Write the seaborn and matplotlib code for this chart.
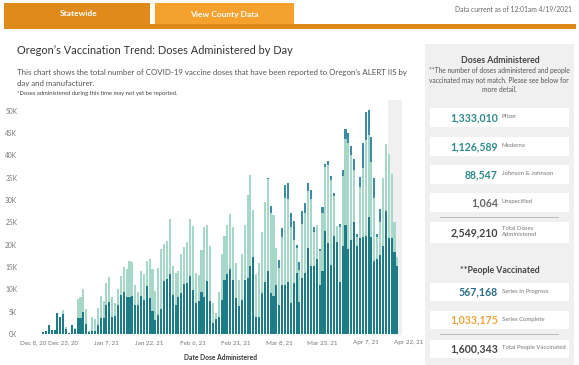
import pandas as pd
import matplotlib.pyplot as plt
import matplotlib.patches as mpatches
import seaborn as sns

# daily doses (thousands), Dec 16 2020 .. Apr 18 2021
first_day = "2020-12-16"
total_k = [0.5, 0.7, 2.1, 1.0, 0.9, 4.6, 3.8, 5.4, 1.6, 0.2,
           2.0, 1.4, 7.8, 8.2, 10.0, 5.7, 0.6, 3.9, 3.3, 5.9,
           8.6, 7.3, 11.4, 12.7, 8.2, 7.0, 10.1, 13.0, 15.1, 14.6,
           16.4, 16.2, 10.9, 9.4, 14.0, 13.4, 16.4, 16.8, 14.5, 9.6,
           14.8, 19.0, 20.1, 20.8, 25.8, 15.3, 13.6, 14.0, 18.0, 19.4,
           20.7, 25.8, 24.1, 13.7, 13.3, 18.7, 24.0, 24.3, 19.8, 7.0,
           4.6, 9.5, 18.0, 22.0, 24.5, 26.9, 24.0, 16.0, 12.1, 18.0,
           24.4, 31.1, 35.6, 27.8, 13.4, 15.8, 22.9, 29.6, 34.9, 28.7,
           26.6, 19.2, 16.6, 23.7, 33.4, 33.7, 27.0, 25.4, 19.9, 16.2,
           27.5, 29.3, 33.9, 32.2, 23.9, 24.4, 19.0, 28.4, 38.1, 38.8,
           35.4, 31.5, 24.2, 24.6, 36.7, 45.8, 44.9, 42.1, 39.1, 22.5,
           35.2, 42.7, 49.8, 50.1, 44.2, 34.9, 22.5, 28.1, 34.9, 42.5,
           40.4, 35.8, 25.1, 17.3]
dark_k = [0.5, 0.7, 2.1, 1.0, 0.9, 4.6, 3.8, 4.4, 1.1, 0.2,
          2.0, 1.2, 3.5, 3.6, 4.9, 2.3, 0.5, 0.6, 0.6, 2.0,
          3.6, 3.6, 6.5, 7.1, 3.7, 4.0, 6.5, 8.8, 9.4, 8.2,
          8.3, 8.6, 6.5, 6.6, 8.6, 7.7, 10.7, 8.1, 5.2, 3.1,
          4.3, 5.6, 11.9, 12.4, 13.4, 8.7, 6.5, 8.2, 9.2, 11.1,
          11.5, 12.9, 9.9, 7.0, 7.4, 9.5, 8.2, 11.8, 7.4, 2.5,
          3.4, 3.7, 7.6, 12.0, 13.5, 14.5, 12.0, 8.0, 6.3, 7.6,
          12.2, 12.5, 15.2, 17.3, 3.9, 3.9, 9.1, 11.7, 14.0, 9.1,
          8.4, 11.0, 6.5, 11.0, 11.0, 11.7, 6.9, 11.5, 13.6, 7.2,
          12.5, 13.6, 19.2, 15.2, 15.2, 16.9, 11.0, 14.2, 23.1, 20.4,
          15.4, 21.9, 20.7, 11.7, 19.6, 24.4, 19.0, 21.0, 25.1, 19.6,
          21.4, 21.8, 21.9, 26.3, 21.8, 16.4, 16.9, 17.7, 19.6, 27.6,
          21.6, 21.4, 18.4, 15.2]
# Johnson & Johnson starts in March
jj_k = [0.0] * 78 + [0.3, 1.6, 0.0, 0.0, 1.9, 1.9, 3.0, 3.4, 3.0, 4.3,
                     0.7, 1.9, 2.8, 2.2, 1.8, 1.9, 1.0, 0.0, 0.5, 1.3,
                     0.6, 1.0, 0.9, 0.7, 0.0, 0.6, 1.3, 2.1, 2.2, 2.0,
                     2.4, 0.7, 2.2, 5.6, 6.3, 5.6, 5.6, 4.5, 0.7, 3.0,
                     0.0, 0.0, 0.0, 0.0, 0.0, 0.0]

tick_dates = ["2020-12-08", "2020-12-23", "2021-01-07", "2021-01-22", "2021-02-06",
              "2021-02-21", "2021-03-08", "2021-03-23", "2021-04-07", "2021-04-22"]
tick_labels = ["Dec 8, 20", "Dec 23, 20", "Jan 7, 21", "Jan 22, 21", "Feb 6, 21",
               "Feb 21, 21", "Mar 8, 21", "Mar 23, 21", "Apr 7, 21", "Apr 22, 21"]
y_ticks_k = [0, 5, 10, 15, 20, 25, 30, 35, 40, 45, 50]
unreported_from = "2021-04-15"

dose_labels = ["Pfizer", "Moderna", "Johnson & Johnson", "Unspecified"]
dose_values = ["1,333,010", "1,126,589", "88,547", "1,064"]
total_doses = "2,549,210"
people_labels = ["Series In Progress", "Series Complete"]
people_values = ["567,168", "1,033,175"]
total_people = "1,600,343"

dark_color = "#1d7c86"
light_color = "#a6d7c8"
jj_color = "#3e8ca4"
orange_dark = "#e08a1c"
orange_light = "#f4a12e"

W, H = 579, 365
sns.set_style("white")
plt.rcParams["font.family"] = ["Lato", "DejaVu Sans"]

fig = plt.figure(figsize=(W / 100, H / 100), dpi=100)


def fx(x):
    return x / W


def fy(y):
    return 1 - y / H


def rect(x0, y0, x1, y1, color):
    fig.patches.append(mpatches.Rectangle((fx(x0), fy(y1)), (x1 - x0) / W, (y1 - y0) / H,
                                          transform=fig.transFigure, facecolor=color,
                                          edgecolor="none", zorder=0))


# header tabs
rect(4, 3, 150, 26, orange_dark)
rect(155, 3, 294, 26, orange_light)
rect(4, 24, 576, 29, orange_dark)
fig.text(fx(79), fy(14), "Statewide", color="white", fontsize=6, weight="bold", ha="center", va="center")
fig.text(fx(224), fy(14), "View County Data", color="white", fontsize=6, weight="bold", ha="center", va="center")
fig.text(fx(572), fy(10), "Data current as of 12:01am 4/19/2021", color="#666666", fontsize=4.9,
         ha="right", va="center")

# titles
fig.text(fx(17), fy(50), "Oregon\u2019s Vaccination Trend: Doses Administered by Day", fontsize=7.9,
         color="#333333", va="center")
fig.text(fx(17), fy(72), "This chart shows the total number of COVID-19 vaccine doses that have been "
         "reported to Oregon\u2019s ALERT IIS by", fontsize=5.65, color="#555555", va="center")
fig.text(fx(17), fy(83.5), "day and manufacturer.", fontsize=5.65, color="#555555", va="center")
fig.text(fx(17), fy(93), "*Doses administered during this time may not yet be reported.", fontsize=4.2,
         color="#444444", va="center")

# chart: categorical positions 0..n-1, one per day
base = pd.Timestamp(first_day)
days = pd.date_range(first_day, periods=len(total_k))
df = pd.DataFrame({"day": days.strftime("%Y-%m-%d"), "total": total_k, "dark": dark_k, "jj": jj_k})
df["lower"] = df["total"] - df["jj"]

x0_px, px_day = 42.5, 2.885  # pixel of first bar, pixels per day
ax = fig.add_axes([fx(20), fy(335), (410.3 - 20) / W, (335 - 100) / H])
ax.axvspan((pd.Timestamp(unreported_from) - base).days - 0.4, (401.5 - x0_px) / px_day,
           color="#f0f0f0", zorder=0, lw=0)
for col, c in [("total", jj_color), ("lower", light_color), ("dark", dark_color)]:
    sns.barplot(data=df, x="day", y=col, color=c, saturation=1, width=0.72,
                errorbar=None, ax=ax, zorder=2, linewidth=0)

ax.set_xlim((20 - x0_px) / px_day, (410.3 - x0_px) / px_day)
ax.set_ylim(-1 / 4.466, 234 / 4.466)
ax.set_xticks([(pd.Timestamp(d) - base).days for d in tick_dates])
ax.set_xticklabels(tick_labels)
ax.get_xticklabels()[0].set_ha("left")
ax.set_yticks(y_ticks_k)
ax.set_yticklabels([f"{k}K" for k in y_ticks_k])
ax.tick_params(axis="both", length=0, labelsize=4.8, labelcolor="#777777")
ax.tick_params(axis="x", pad=3.5, labelsize=4.5)
ax.tick_params(axis="y", pad=2)
ax.set_xlabel("")
ax.set_ylabel("")
for s in ax.spines.values():
    s.set_visible(False)
ax.patch.set_alpha(0)
fig.text(fx(221), fy(357), "Date Dose Administered", fontsize=4.8, weight="bold", color="#333333",
         ha="center", va="center")

# right panel
rect(425, 44, 574, 365, "#f0f0f0")
fig.text(fx(500), fy(60.5), "Doses Administered", fontsize=6.3, weight="bold", color="#444444",
         ha="center", va="center")
for yy, line in [(70.7, "**The number of doses administered and people"),
                 (80.5, "vaccinated may not match. Please see below for"),
                 (89.5, "more detail.")]:
    fig.text(fx(499), fy(yy), line, fontsize=4.8, color="#555555", ha="center", va="center")


def stat(y0, y1, value, label, color):
    rect(430, y0, 569, y1, "white")
    yc = (y0 + y1) / 2
    fig.text(fx(498), fy(yc), value, fontsize=7.6, weight="bold", color=color, ha="right", va="center")
    fig.text(fx(502), fy(yc - 1), label, fontsize=4.3, color="#777777", ha="left", va="center",
             linespacing=1.5)


dose_colors = ["#2e8a8a", "#2e8a8a", "#2e8a8a", "#666666"]
for (y0, y1), v, lab, c in zip([(108, 127), (137, 156), (165, 184), (193, 212)],
                               dose_values, dose_labels, dose_colors):
    stat(y0, y1, v, lab, c)
rect(440, 216.5, 559, 217.7, "#bbbbbb")
stat(222, 243, total_doses, "Total Doses\nAdministered", "#444444")

fig.text(fx(500), fy(270.5), "**People Vaccinated", fontsize=6.3, weight="bold", color="#444444",
         ha="center", va="center")
for (y0, y1), v, lab, c in zip([(283, 301), (311, 329)], people_values, people_labels,
                               ["#2b6c88", "#e9a43a"]):
    stat(y0, y1, v, lab, c)
rect(440, 333.5, 559, 334.7, "#bbbbbb")
stat(340, 358, total_people, "Total People Vaccinated", "#444444")

fig.savefig("out.png", dpi=100)
